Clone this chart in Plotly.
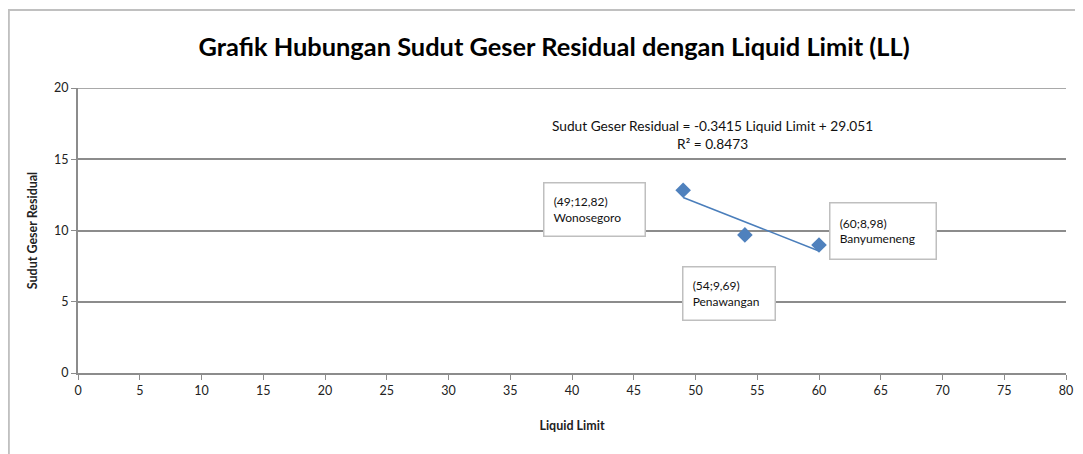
import plotly.graph_objects as go

# Data
liquid_limit = [49, 54, 60]
sudut_geser = [12.82, 9.69, 8.98]
locations = ["Wonosegoro", "Penawangan", "Banyumeneng"]
point_labels = ["(49;12,82)", "(54;9,69)", "(60;8,98)"]
slope = -0.3415
intercept = 29.051
r2 = 0.8473
x_ticks = list(range(0, 81, 5))
y_ticks = list(range(0, 21, 5))

# label box centres (data coords) and box sizes
label_x = [41.8, 52.75, 65.2]
label_y = [11.47, 5.58, 9.96]
box_w = [94, 85, 99]
box_h = [46, 46, 49]

trend_x = [min(liquid_limit), max(liquid_limit)]
trend_y = [slope * v + intercept for v in trend_x]

FONT = "Lato, 'Noto Sans', sans-serif"
GRID = "#8C8C8C"

fig = go.Figure()
fig.add_trace(go.Scatter(x=trend_x, y=trend_y, mode="lines",
                         line=dict(color="#4A7EBB", width=1.5), showlegend=False))
fig.add_trace(go.Scatter(x=liquid_limit, y=sudut_geser, mode="markers",
                         marker=dict(symbol="diamond", size=12, color="#4F81BD"),
                         showlegend=False))

pad = "&nbsp;&nbsp;"
for lx, ly, pl, loc, w, h in zip(label_x, label_y, point_labels, locations, box_w, box_h):
    fig.add_annotation(x=lx, y=ly, xref="x", yref="y", showarrow=False,
                       text=f"{pad}{pl}<br>{pad}{loc}", align="left",
                       width=w, height=h, bgcolor="white",
                       bordercolor="#BFBFBF", borderwidth=1.5, borderpad=3,
                       font=dict(family=FONT, size=12, color="#111111"))

fig.add_annotation(x=51.4, y=16.77, xref="x", yref="y", showarrow=False,
                   text=f"Sudut Geser Residual = {slope} Liquid Limit + {intercept}<br>R² = {r2}",
                   align="center", font=dict(family=FONT, size=13.7, color="#111111"))

# top gridline at y = 20
fig.add_shape(type="line", xref="paper", yref="y", x0=0, x1=1, y0=20, y1=20,
              line=dict(color=GRID, width=1.5), layer="below")

# chart frame (top and left edges)
fig.add_shape(type="path", xref="paper", yref="paper",
              path="M -0.0700 -0.4 L -0.0700 1.2737 L 1.1 1.2737",
              line=dict(color="#C0C0C0", width=2))

fig.update_layout(
    width=1075, height=446,
    margin=dict(l=70, r=17, t=80, b=81, autoexpand=False),
    paper_bgcolor="white", plot_bgcolor="white",
    title=dict(text="<b>Grafik Hubungan Sudut Geser Residual dengan Liquid Limit (LL)</b>",
               x=0.508, xanchor="center", y=0.9114, yanchor="middle",
               font=dict(family=FONT, size=25.4, color="#000000")),
    font=dict(family=FONT, size=12.5, color="#222222"),
)
fig.update_xaxes(range=[0, 80], tickvals=x_ticks, showgrid=False, automargin=False,
                 showline=True, linecolor=GRID, linewidth=2,
                 ticks="outside", ticklen=5, tickcolor=GRID, zeroline=False,
                 title=dict(text="<b>Liquid Limit</b>", font=dict(size=12.5), standoff=24))
fig.update_yaxes(range=[0, 20], tickvals=y_ticks, showgrid=True, gridcolor=GRID, gridwidth=1.5,
                 showline=True, linecolor=GRID, linewidth=2, mirror=False, automargin=False,
                 ticks="outside", ticklen=5, tickcolor=GRID, zeroline=False,
                 title=dict(text="<b>Sudut Geser Residual</b>", font=dict(size=12.5), standoff=14))

fig.write_html("out.html")
